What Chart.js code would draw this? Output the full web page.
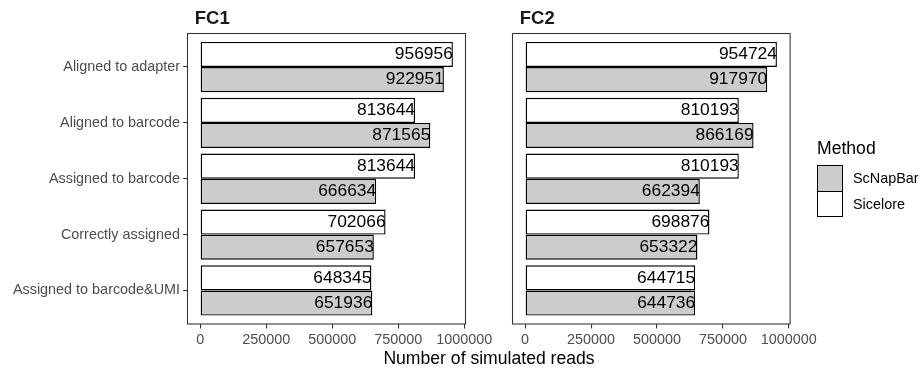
<!DOCTYPE html>
<html>
<head>
<meta charset="utf-8">
<script src="https://cdn.jsdelivr.net/npm/chart.js@4.4.1/dist/chart.umd.min.js"></script>
<style>
  body { margin: 0; background: #fff; }
  #wrap { position: relative; width: 920px; height: 370px; overflow: hidden;
          font-family: 'Liberation Sans', Arial, Helvetica, sans-serif; }
  canvas { position: absolute; top: 0; }
  .txt { position: absolute; white-space: nowrap; }
  .key { position: absolute; left: 817px; width: 26px; box-sizing: border-box;
         border: 1.4px solid #000; }
</style>
</head>
<body>
<div id="wrap">
  <canvas id="fc1" width="500" height="350" style="left:0"></canvas>
  <canvas id="fc2" width="320" height="350" style="left:500px"></canvas>

  <div class="txt" style="left:489px; top:350px; font-size:17.6px; line-height:17.6px; transform:translateX(-50%);">Number of simulated reads</div>

  <div class="txt" style="left:817px; top:139.5px; font-size:17.6px; line-height:17.6px;">Method</div>
  <div class="key" style="top:165px; height:26.7px; background:#cccccc;"></div>
  <div class="key" style="top:191px; height:26.3px; background:#ffffff;"></div>
  <div class="txt" style="left:853px; top:171px; font-size:14.4px; line-height:14.4px;">ScNapBar</div>
  <div class="txt" style="left:853px; top:197px; font-size:14.4px; line-height:14.4px;">Sicelore</div>
</div>

<script>
/* ─── Data ─── */
const categories = [
  'Aligned to adapter',
  'Aligned to barcode',
  'Assigned to barcode',
  'Correctly assigned',
  'Assigned to barcode&UMI',
];
const methods = ['Sicelore', 'ScNapBar'];

const fc1Sicelore = [956956, 813644, 813644, 702066, 648345];
const fc1ScNapBar = [922951, 871565, 666634, 657653, 651936];
const fc2Sicelore = [954724, 810193, 810193, 698876, 644715];
const fc2ScNapBar = [917970, 866169, 662394, 653322, 644736];

const xTicks = [0, 250000, 500000, 750000, 1000000];

/* ─── Style ─── */
const FONT = "'Liberation Sans', Arial, Helvetica, sans-serif";
const AXIS_GREY = '#4d4d4d';
const LINE_GREY = '#333333';
const FILLS = { Sicelore: '#ffffff', ScNapBar: '#cccccc' };

/* ─── Plugins ─── */
const panelPlugin = {
  id: 'panel',
  afterDatasetsDraw(chart, args, opts) {
    const { ctx, chartArea: a } = chart;
    ctx.save();

    // value labels, right-aligned at bar end
    ctx.font = '17.4px ' + FONT;
    ctx.fillStyle = '#000';
    ctx.textAlign = 'right';
    ctx.textBaseline = 'middle';
    chart.data.datasets.forEach((ds, i) => {
      chart.getDatasetMeta(i).data.forEach((el, j) => {
        ctx.fillText(String(ds.data[j].x), el.x, el.y);
      });
    });

    // panel border
    ctx.strokeStyle = LINE_GREY;
    ctx.lineWidth = 1.07;
    ctx.strokeRect(a.left, a.top, a.right - a.left, a.bottom - a.top);

    // facet strip title
    ctx.font = 'bold 18.5px ' + FONT;
    ctx.textAlign = 'left';
    ctx.textBaseline = 'alphabetic';
    ctx.fillStyle = '#1a1a1a';
    ctx.fillText(opts.title, a.left + 7.3, 24.3);
    ctx.restore();
  },
};

function makePanel(canvasId, title, sicelore, scnapbar, showY, padding) {
  const series = { Sicelore: sicelore, ScNapBar: scnapbar };
  return new Chart(document.getElementById(canvasId), {
    type: 'bar',
    data: {
      datasets: methods.map(m => ({
        label: m,
        data: series[m].map((v, i) => ({ x: v, y: i + 1 })),
        backgroundColor: FILLS[m],
        borderColor: '#000',
        borderWidth: 1.4,
        borderSkipped: false,
        categoryPercentage: 0.9,
        barPercentage: 1.0,
      })),
    },
    options: {
      indexAxis: 'y',
      responsive: false,
      animation: false,
      devicePixelRatio: 1,
      layout: { padding },
      plugins: {
        legend: { display: false },
        tooltip: { enabled: false },
        panel: { title },
      },
      scales: {
        x: {
          type: 'linear',
          min: -47848,
          max: 1004804,
          afterBuildTicks: s => { s.ticks = xTicks.map(v => ({ value: v })); },
          afterFit: s => { s.height = 26; },
          border: { display: false },
          grid: {
            display: true,
            drawOnChartArea: false,
            drawTicks: true,
            tickLength: 4.4,
            color: LINE_GREY,
            lineWidth: 1.07,
          },
          ticks: {
            autoSkip: false,
            maxRotation: 0,
            padding: 3,
            color: AXIS_GREY,
            font: { family: FONT, size: 14.4 },
            callback: v => String(v),
          },
        },
        y: {
          type: 'linear',
          display: showY,
          reverse: true,
          offset: false,
          min: 0.4,
          max: 5.6,
          afterBuildTicks: s => { s.ticks = categories.map((c, i) => ({ value: i + 1 })); },
          afterFit: s => { if (showY) s.width = 187.5; },
          border: { display: false },
          grid: {
            display: true,
            offset: false,
            drawOnChartArea: false,
            drawTicks: true,
            tickLength: 4.4,
            color: LINE_GREY,
            lineWidth: 1.07,
          },
          ticks: {
            autoSkip: false,
            padding: 3,
            color: AXIS_GREY,
            font: { family: FONT, size: 14.4 },
            callback: v => categories[v - 1],
          },
        },
      },
    },
    plugins: [panelPlugin],
  });
}

makePanel('fc1', 'FC1', fc1Sicelore, fc1ScNapBar, true,
  { top: 33.5, right: 34.5, bottom: 0, left: 0 });
makePanel('fc2', 'FC2', fc2Sicelore, fc2ScNapBar, false,
  { top: 33.5, right: 29.5, bottom: 0, left: 12.5 });
</script>
</body>
</html>
